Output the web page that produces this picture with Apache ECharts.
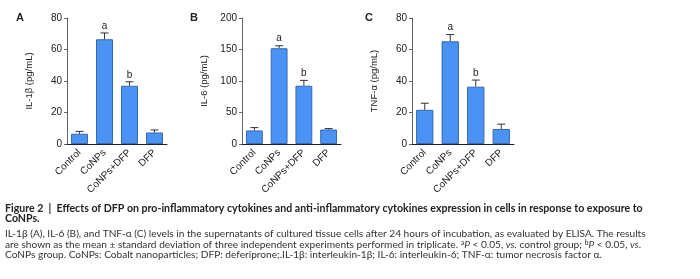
<!DOCTYPE html>
<html>
<head>
<meta charset="utf-8">
<script src="https://cdn.jsdelivr.net/npm/echarts@6/dist/echarts.min.js"></script>
<style>
  html, body { margin: 0; padding: 0; background: #fff; }
  #chart { width: 700px; height: 279px; }
</style>
</head>
<body>
<div id="chart"></div>
<script>
// data
const categories = ['Control', 'CoNPs', 'CoNPs+DFP', 'DFP']
const sigLetters = ['', 'a', 'b', '']

const il1bMean = [6.5, 66.5, 37, 7.3]
const il1bSd = [1.5, 4, 2.5, 1.6]
const il6Mean = [21.5, 152, 92.5, 23]
const il6Sd = [4.5, 4, 8.5, 1.5]
const tnfMean = [21.7, 65.2, 36.4, 9.5]
const tnfSd = [4.2, 4.3, 4.2, 3.1]

const panels = [
  { tag: 'A', name: 'IL-1β (pg/mL)', max: 80, interval: 20, mean: il1bMean, sd: il1bSd, left: 67, width: 100 },
  { tag: 'B', name: 'IL-6 (pg/mL)', max: 200, interval: 50, mean: il6Mean, sd: il6Sd, left: 242, width: 99 },
  { tag: 'C', name: 'TNF-α (pg/mL)', max: 80, interval: 20, mean: tnfMean, sd: tnfSd, left: 412, width: 102 }
]

const chartFont = 'Liberation Sans, Arial, sans-serif'
const capFont = 'Lato, sans-serif'
const barColor = '#4a93f5'

const chart = echarts.init(document.getElementById('chart'))

// 误差线 + 显著性字母
function errorRender(mean, sd) {
  return function (params, api) {
    const i = api.value(0)
    const base = api.coord([i, mean[i]])
    const top = api.coord([i, mean[i] + sd[i]])
    const children = [
      { type: 'line', shape: { x1: base[0], y1: base[1], x2: top[0], y2: top[1] }, style: { stroke: '#333', lineWidth: 1 } },
      { type: 'line', shape: { x1: top[0] - 4, y1: top[1], x2: top[0] + 4, y2: top[1] }, style: { stroke: '#333', lineWidth: 1 } }
    ]
    if (sigLetters[i]) {
      children.push({
        type: 'text',
        style: { text: sigLetters[i], x: top[0], y: top[1] - 2, align: 'center', verticalAlign: 'bottom', fontSize: 10, fontFamily: chartFont, fill: '#222' }
      })
    }
    return { type: 'group', children: children }
  }
}

const grid = []
const xAxis = []
const yAxis = []
const series = []

panels.forEach(function (p, k) {
  grid.push({ left: p.left, top: 18, width: p.width, height: 126, containLabel: false })
  xAxis.push({
    type: 'category',
    gridIndex: k,
    data: categories,
    axisLine: { lineStyle: { color: '#222', width: 1 } },
    axisTick: { alignWithLabel: true, length: 3, lineStyle: { color: '#444' } },
    axisLabel: { rotate: 45, fontSize: 10, color: '#222', fontFamily: chartFont, margin: 7 }
  })
  yAxis.push({
    type: 'value',
    gridIndex: k,
    min: 0,
    max: p.max,
    interval: p.interval,
    name: p.name,
    nameLocation: 'middle',
    nameGap: 33,
    nameTextStyle: { fontSize: 9.5, color: '#222', fontFamily: chartFont },
    splitLine: { show: false },
    axisLine: { show: true, lineStyle: { color: '#666', width: 1 } },
    axisTick: { show: true, length: 3, lineStyle: { color: '#666' } },
    axisLabel: { fontSize: 10, color: '#222', fontFamily: chartFont, margin: 5 }
  })
  series.push({
    type: 'bar',
    xAxisIndex: k,
    yAxisIndex: k,
    data: p.mean,
    barWidth: '68%',
    itemStyle: { color: barColor, borderColor: '#3569b0', borderWidth: 1 },
    z: 2
  })
  series.push({
    type: 'custom',
    xAxisIndex: k,
    yAxisIndex: k,
    data: p.mean.map(function (v, i) { return [i, v] }),
    renderItem: errorRender(p.mean, p.sd),
    z: 3,
    silent: true
  })
})

// panel tags + caption
const tagPos = [20, 194, 369]
const graphic = panels.map(function (p, k) {
  return {
    type: 'text',
    left: tagPos[k] - 4,
    top: 12,
    style: { text: p.tag, fontSize: 11, fontWeight: 'bold', fill: '#222', fontFamily: chartFont }
  }
})

const capRich = {
  b: { fontSize: 10.6, fontWeight: 'bold', fontFamily: capFont, fill: '#222' },
  n: { fontSize: 10.15, fontFamily: capFont, fill: '#333' },
  i: { fontSize: 10.15, fontStyle: 'italic', fontFamily: capFont, fill: '#333' },
  s: { fontSize: 7, fontFamily: capFont, fill: '#333', padding: [0, 0, 4, 0] }
}
const capLines = [
  '{b|Figure 2  |  Effects of DFP on pro-inflammatory cytokines and anti-inflammatory cytokines expression in cells in response to exposure to}',
  '{b|CoNPs.}',
  '{n|IL-1β (A), IL-6 (B), and TNF-α (C) levels in the supernatants of cultured tissue cells after 24 hours of incubation, as evaluated by ELISA. The results}',
  '{n|are shown as the mean ± standard deviation of three independent experiments performed in triplicate. }{s|a}{i|P}{n| < 0.05, }{i|vs.}{n| control group; }{s|b}{i|P}{n| < 0.05, }{i|vs.}',
  '{n|CoNPs group. CoNPs: Cobalt nanoparticles; DFP: deferiprone;.IL-1β: interleukin-1β; IL-6: interleukin-6; TNF-α: tumor necrosis factor α.}'
]
const capY = [203, 213, 229, 239.5, 249.5]
capLines.forEach(function (t, i) {
  graphic.push({
    type: 'text',
    left: 5,
    top: capY[i],
    style: { text: t, rich: capRich }
  })
})

chart.setOption({
  animation: false,
  grid: grid,
  xAxis: xAxis,
  yAxis: yAxis,
  series: series,
  graphic: graphic
})
</script>
</body>
</html>
